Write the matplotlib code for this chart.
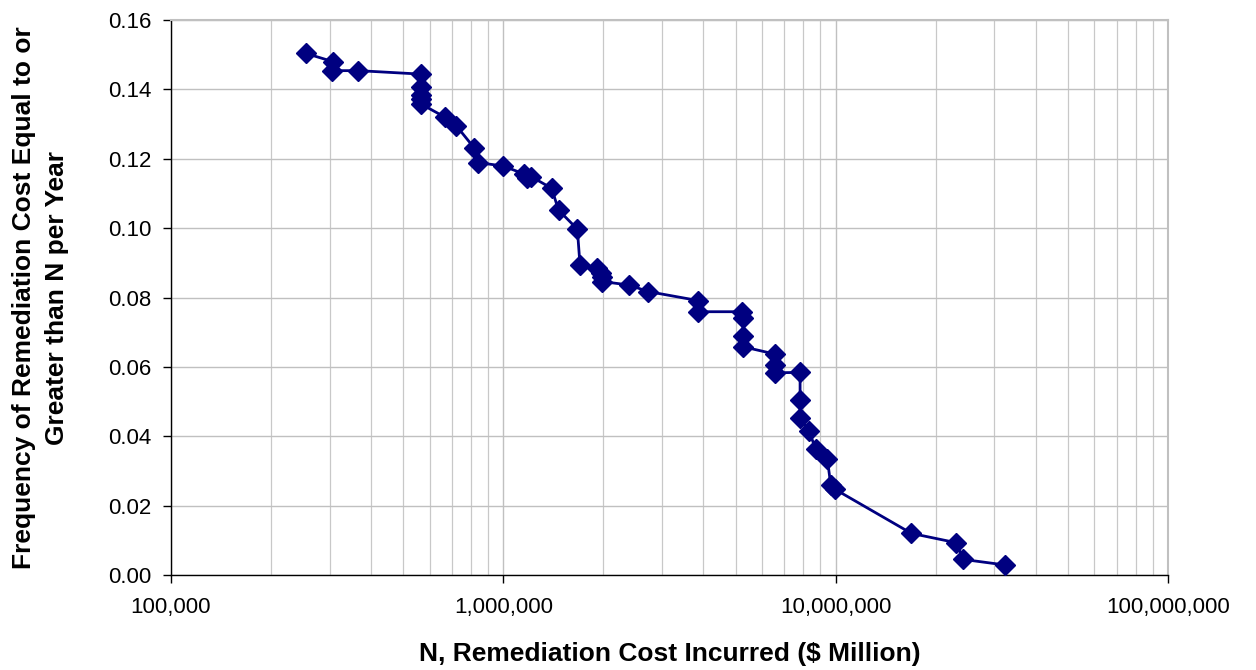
import numpy as np
import matplotlib.pyplot as plt
from matplotlib.ticker import FuncFormatter, LogLocator, NullFormatter

plt.rcParams['font.family'] = ['Liberation Sans', 'DejaVu Sans']

# remediation cost N and yearly frequency of cost >= N
cost = [254000, 307000, 306000, 366000, 565000, 565000, 565000, 565000, 565000,
        667000, 722000, 816000, 839000, 1000000, 1155000, 1180000, 1215000,
        1397000, 1466000, 1670000, 1701000, 1918000, 1964000, 1986000, 1986000,
        2389000, 2731000, 3863000, 3863000, 5217000, 5264000, 5264000, 5264000,
        6557000, 6557000, 6557000, 7815000, 7815000, 7815000, 8317000, 8712000,
        9441000, 9666000, 9958000, 16900000, 23080000, 24170000, 32280000]
freq = [0.1504, 0.1480, 0.1454, 0.1454, 0.1444, 0.1406, 0.1384, 0.1372, 0.1358,
        0.1320, 0.1295, 0.1232, 0.1189, 0.1179, 0.1156, 0.1145, 0.1148,
        0.1115, 0.1052, 0.0997, 0.0894, 0.0884, 0.0872, 0.0858, 0.0846,
        0.0836, 0.0817, 0.0791, 0.0759, 0.0759, 0.0740, 0.0689, 0.0658,
        0.0637, 0.0605, 0.0583, 0.0584, 0.0505, 0.0453, 0.0415, 0.0362,
        0.0334, 0.0259, 0.0247, 0.0120, 0.0093, 0.0045, 0.0029]

fig = plt.figure(figsize=(12.56, 6.70), dpi=100)
ax = fig.add_axes([171/1256, 1-575/670, (1168-171)/1256, (575-20)/670])

ax.plot(cost, freq, color='#000080', lw=2, marker='D', ms=10,
        markeredgecolor='#000080', zorder=3, clip_on=False)

ax.set_xscale('log')
ax.set_xlim(1e5, 1e8)
ax.set_ylim(0, 0.16)
ax.set_yticks(np.arange(0, 0.161, 0.02))
ax.yaxis.set_major_formatter(FuncFormatter(lambda v, p: f'{v:.2f}'))
ax.xaxis.set_major_locator(LogLocator(base=10, numticks=10))
ax.xaxis.set_minor_locator(LogLocator(base=10, subs=np.arange(2, 10), numticks=20))
ax.xaxis.set_minor_formatter(NullFormatter())
ax.xaxis.set_major_formatter(FuncFormatter(lambda v, p: f'{int(round(v)):,}'))

ax.grid(which='major', color='#c0c0c0', lw=1.0)
ax.grid(which='minor', axis='x', color='#c8c8c8', lw=0.9)
ax.set_axisbelow(True)

for s in ['top', 'right']:
    ax.spines[s].set_color('#c0c0c0')
    ax.spines[s].set_linewidth(1.5)
for s in ['left', 'bottom']:
    ax.spines[s].set_color('black')
    ax.spines[s].set_linewidth(1.0)

ax.tick_params(axis='both', which='major', labelsize=16, length=6, width=1,
               direction='out', color='black')
ax.tick_params(axis='y', pad=8)
ax.tick_params(axis='x', pad=10)
ax.tick_params(axis='x', which='minor', length=0)

ax.set_xlabel('N, Remediation Cost Incurred ($ Million)', fontsize=19,
              fontweight='bold', labelpad=17)
ax.set_ylabel('Frequency of Remediation Cost Equal to or\nGreater than N per Year',
              fontsize=19, fontweight='bold', labelpad=28, linespacing=1.5)

fig.savefig('out.png', dpi=100)
